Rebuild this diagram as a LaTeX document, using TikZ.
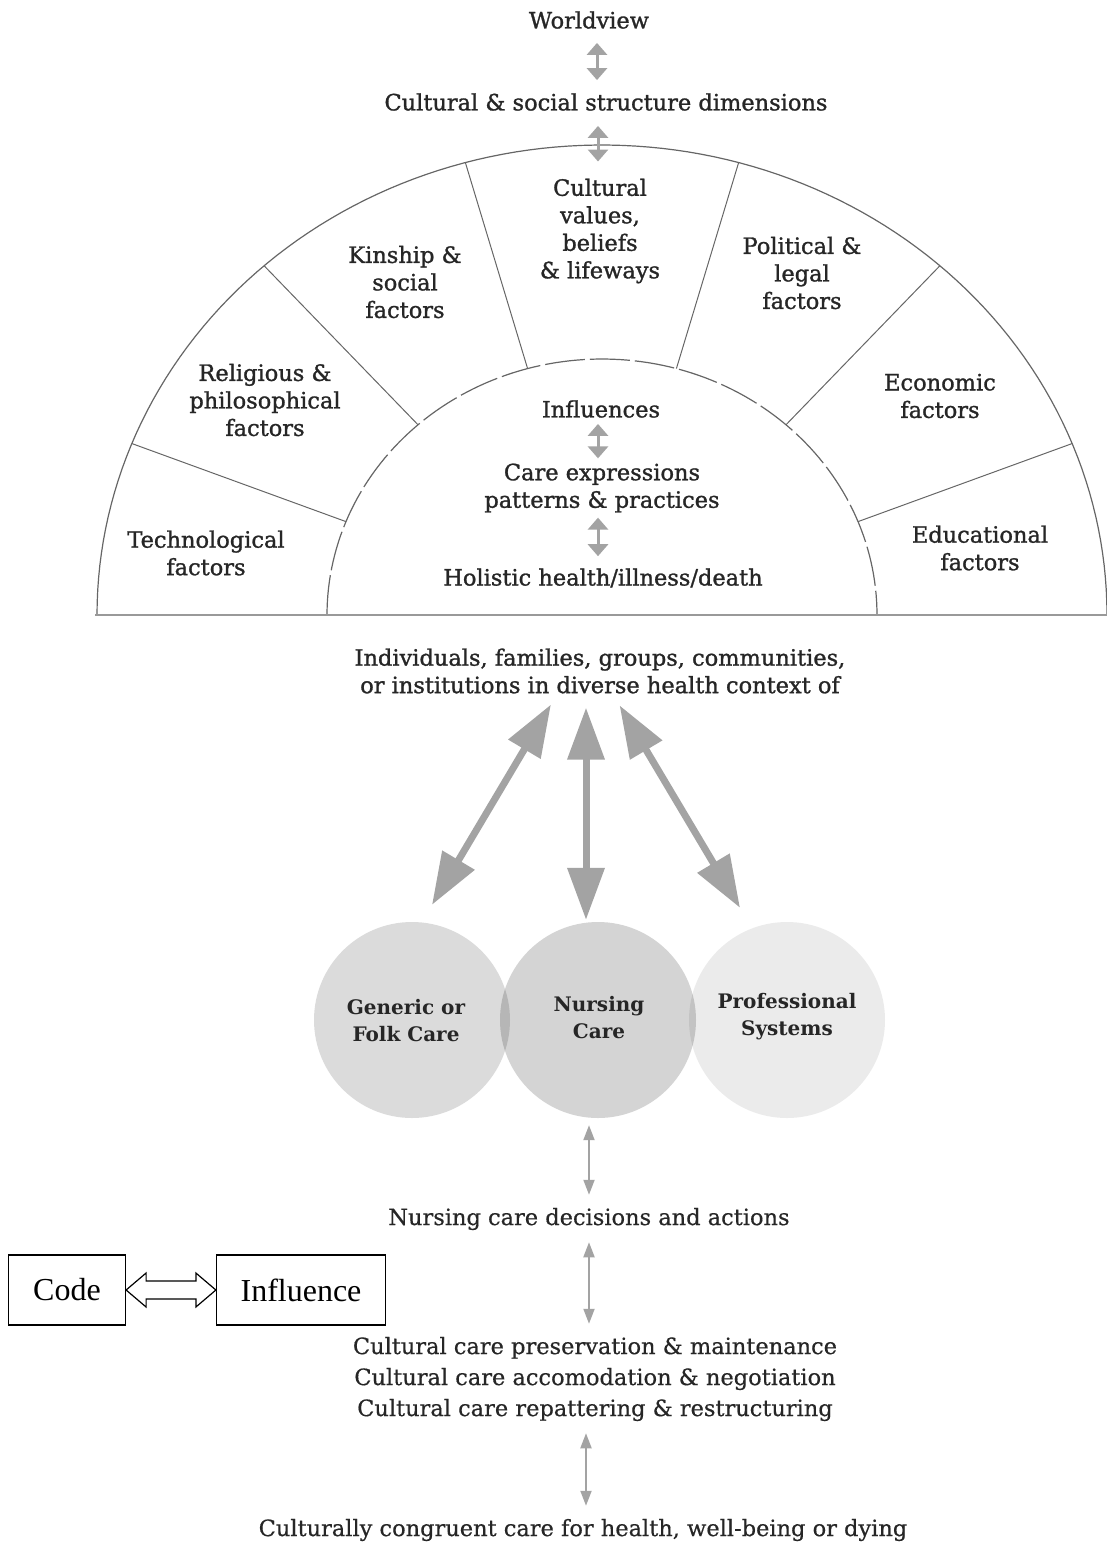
\documentclass[tikz,border=0pt]{standalone}
\usepackage{fontspec}
\setmainfont{DejaVu Serif}
\newfontfamily\medfont{DejaVu Serif}[FakeBold=1.2]
\newfontfamily\regfont{DejaVu Serif}[FakeBold=0.5]
\newfontfamily\boxfont{Liberation Serif}
\usetikzlibrary{arrows.meta,calc}
\definecolor{arrgray}{gray}{0.64}
\definecolor{txtgray}{gray}{0.15}
\tikzset{
  lbl/.style={align=center, text=txtgray, inner sep=4pt, font=\medfont\fontsize{22.5}{27.5}\selectfont},
  low/.style={lbl, font=\regfont\fontsize{22.5}{31}\selectfont},
  circ/.style={circle, minimum size=196pt, inner sep=0pt, fill=black, fill opacity=#1},
  circtxt/.style={lbl, font=\bfseries\fontsize{20}{27}\selectfont},
  smallarr/.style={arrgray, line width=3pt, {Triangle[width=20pt,length=12pt]}-{Triangle[width=20pt,length=12pt]}},
  thinarr/.style={arrgray, line width=2pt, {Triangle[width=11pt,length=15pt]}-{Triangle[width=11pt,length=15pt]},
    shorten <=8pt, shorten >=9pt},
  bigarr/.style={arrgray, line width=7pt, {Triangle[width=36pt,length=52pt]}-{Triangle[width=36pt,length=52pt]}},
  codebox/.style={draw, line width=1.2pt, minimum height=70pt, font=\boxfont\fontsize{32}{36}\selectfont}
}
\begin{document}
\begin{tikzpicture}[x=1pt, y=-1pt]
\useasboundingbox (0,0) rectangle (1107,1543);

\draw[black!60, line width=1.2pt] plot[domain=180:360, samples=120] ({602+505*cos(\x)},{615+470*sin(\x)});
\draw[black!60, line width=1.2pt, dash pattern=on 40pt off 5pt] plot[domain=180:360, samples=120] ({602+275*cos(\x)},{615+256*sin(\x)});
\foreach \a in {21.4,48,74.3,105.7,132,158.6}
{
    \draw[black!60, line width=1pt] ({602+275*cos(\a)},{615-256*sin(\a)})--({602+505*cos(\a)},{615-470*sin(\a)});
}
\draw[black!40, line width=2pt] (95,615)--(1107,615);

\node[lbl] (wv) at (589,20) {Worldview};
\node[lbl] (csd) at (606,102) {Cultural \& social structure dimensions};
\node[lbl] (cv) at (600,231) {Cultural\\values,\\beliefs\\\& lifeways};
\node[lbl] (kin) at (405,282) {Kinship \&\\social\\factors};
\node[lbl] (pol) at (802,273) {Political \&\\legal\\factors};
\node[lbl] (rel) at (265,400) {Religious \&\\philosophical\\factors};
\node[lbl] (eco) at (940,396) {Economic\\factors};
\node[lbl] (tech) at (206,553) {Technological\\factors};
\node[lbl] (edu) at (980,548) {Educational\\factors};
\node[lbl] (infl) at (601,409) {Influences};
\node[lbl] (care) at (602,488) {Care expressions\\patterns \& practices};
\node[lbl] (hol) at (603,578) {Holistic health/illness/death};
\node[lbl] (ind) at (600,671) {Individuals, families, groups, communities,\\ or institutions in diverse health context of};

\draw[smallarr, shorten <=10pt, shorten >=9pt] ([xshift=8pt]wv.south)--([xshift=-9pt]csd.north);
\draw[smallarr, shorten <=11pt, shorten >=13pt] ([xshift=-8pt]csd.south)--([xshift=-2pt]cv.north);
\draw[smallarr, shorten <=2pt, shorten >=1pt] ([xshift=-3pt]infl.south)--([xshift=-4pt]care.north);
\draw[smallarr, shorten <=1pt, shorten >=8pt] ([xshift=-4pt]care.south)--([xshift=-5pt]hol.north);

\node[circ=0.14] (gen) at (412,1020) {};
\node[circ=0.17] (nur) at (598,1020) {};
\node[circ=0.08] (pro) at (787,1020) {};
\node[circtxt] at (406,1021) {Generic or\\Folk Care};
\node[circtxt] at (599,1018) {Nursing\\Care};
\node[circtxt] at (787,1017) {Professional\\Systems};

\draw[bigarr, shorten <=8pt] ([xshift=-45pt]ind.south)--([xshift=20pt,yshift=17pt]gen.north);
\draw[bigarr, shorten <=10pt] ([xshift=-14pt]ind.south)--([xshift=-12pt,yshift=2pt]nur.north);
\draw[bigarr, shorten <=9pt] ([xshift=15pt]ind.south)--([xshift=-47pt,yshift=14pt]pro.north);

\node[low] (dec) at (589,1219) {Nursing care decisions and actions};
\node[low] (pres) at (595,1379) {Cultural care preservation \& maintenance\\Cultural care accomodation \& negotiation\\Cultural care repattering \& restructuring};
\node[low] (cong) at (583,1530) {Culturally congruent care for health, well-being or dying};

\draw[thinarr, shorten <=7pt] (nur.south -| dec.north)--(dec.north);
\draw[thinarr] (dec.south)--(dec.south |- pres.north);
\draw[thinarr] ([xshift=3pt]pres.south -| cong.north)--([xshift=3pt]cong.north);

\node[codebox, minimum width=117pt] (code) at (67,1290) {Code};
\node[codebox, minimum width=169pt] (infbox) at (301,1290) {Influence};
\draw[line width=1.2pt] (code.east)--++(20,-17)--++(0,8)--($(infbox.west)+(-20,-9)$)--++(0,-8)--(infbox.west)
    --++(-20,17)--++(0,-8)--($(code.east)+(20,9)$)--++(0,8)--cycle;

\end{tikzpicture}
\end{document}
